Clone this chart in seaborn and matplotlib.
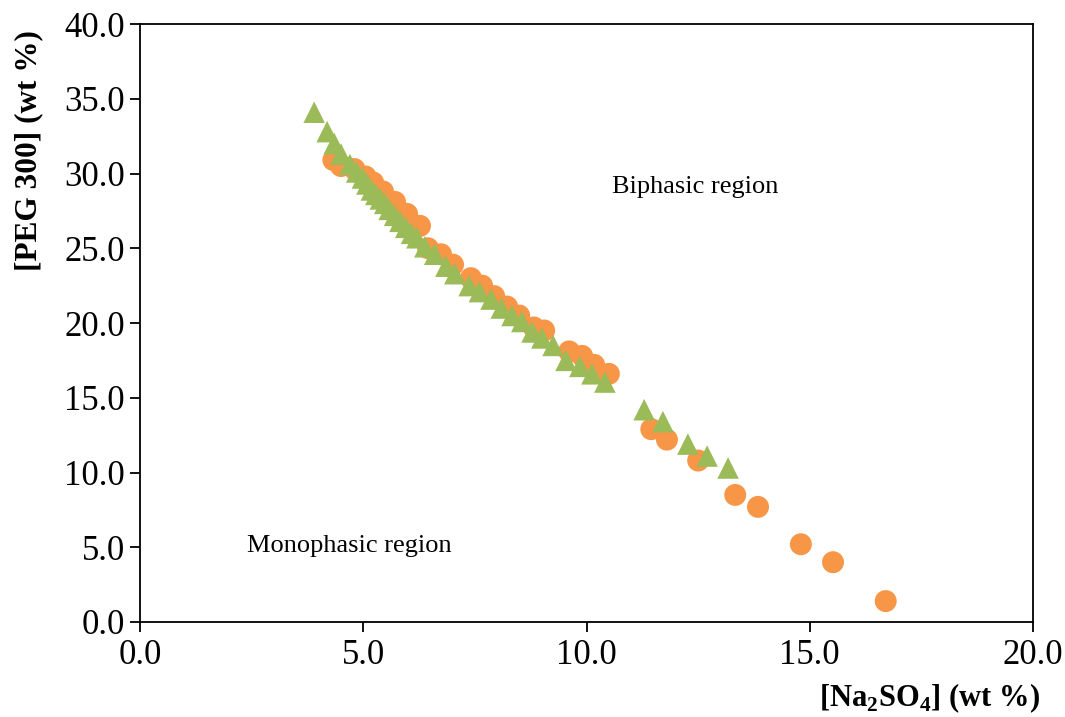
import numpy as np
import pandas as pd
import seaborn as sns
import matplotlib
matplotlib.use("Agg")
import matplotlib.pyplot as plt
from matplotlib.path import Path

# data
circ_x = [4.33, 4.50, 4.80, 5.05, 5.22, 5.44, 5.71, 5.98, 6.27, 6.45, 6.74, 7.01,
          7.41, 7.66, 7.93, 8.22, 8.49, 8.82, 9.05, 9.61, 9.90, 10.17, 10.50,
          11.45, 11.80, 12.50, 13.33, 13.84, 14.80, 15.52, 16.70]
circ_y = [30.9, 30.5, 30.3, 29.8, 29.4, 28.8, 28.1, 27.3, 26.5, 25.0, 24.6, 23.9,
          23.0, 22.5, 21.8, 21.1, 20.5, 19.7, 19.5, 18.1, 17.8, 17.2, 16.6,
          12.9, 12.2, 10.8, 8.5, 7.7, 5.2, 4.0, 1.4]

tri_x = [3.90, 4.19, 4.35, 4.50, 4.70, 4.85, 4.98, 5.08, 5.18, 5.28, 5.38, 5.48,
         5.58, 5.70, 5.82, 5.95, 6.08, 6.20, 6.38, 6.60, 6.85, 7.05, 7.37, 7.60,
         7.86, 8.09, 8.33, 8.55, 8.78, 9.00, 9.25, 9.54, 9.85, 10.12, 10.41,
         11.29, 11.71, 12.27, 12.70, 13.17]
tri_y = [34.1, 32.8, 32.0, 31.3, 30.6, 30.1, 29.7, 29.3, 28.9, 28.6, 28.3, 28.0,
         27.6, 27.2, 26.8, 26.4, 26.0, 25.7, 25.1, 24.6, 23.8, 23.3, 22.5, 22.1,
         21.6, 21.0, 20.5, 20.1, 19.4, 19.0, 18.5, 17.5, 17.1, 16.6, 16.05,
         14.2, 13.4, 11.9, 11.1, 10.3]

x_ticks = [0, 5, 10, 15, 20]
y_ticks = [0, 5, 10, 15, 20, 25, 30, 35, 40]

sns.set_theme(style="white")
plt.rcParams['font.family'] = ['Liberation Serif', 'DejaVu Serif']
plt.rcParams['mathtext.fontset'] = 'custom'
plt.rcParams['mathtext.rm'] = 'Liberation Serif'
plt.rcParams['mathtext.bf'] = 'Liberation Serif:bold'
plt.rcParams['text.color'] = 'black'
plt.rcParams['axes.labelcolor'] = 'black'

circles = pd.DataFrame({"x": circ_x, "y": circ_y})
triangles = pd.DataFrame({"x": tri_x, "y": tri_y})

# isosceles triangle, as wide as tall
tri_marker = Path([(0, 1), (-1, -1), (1, -1), (0, 1)], closed=True)

fig = plt.figure(figsize=(10.65, 7.17), dpi=100)
ax = fig.add_axes([0.1315, 0.1325, 0.8385, 0.834])

sns.scatterplot(data=circles, x="x", y="y", ax=ax, marker="o", s=250,
                color="#F79646", edgecolor="none", linewidth=0, zorder=3)
sns.scatterplot(data=triangles, x="x", y="y", ax=ax, marker=tri_marker, s=240,
                color="#9BBB59", edgecolor="none", linewidth=0, zorder=4)

ax.set_xlim(0, 20)
ax.set_ylim(0, 40)
ax.set_xticks(x_ticks)
ax.set_yticks(y_ticks)
ax.set_xticklabels([f"{v:.1f}" for v in x_ticks])
ax.set_yticklabels([f"{v:.1f}" for v in y_ticks])
ax.tick_params(axis="both", labelsize=25, length=7, width=1.3, direction="out",
               color="black", labelcolor="black", left=True, bottom=True)
ax.tick_params(axis="x", pad=5)
ax.tick_params(axis="y", pad=4)

for side in ["left", "bottom", "top", "right"]:
    ax.spines[side].set_visible(True)
    ax.spines[side].set_color("black")
    ax.spines[side].set_linewidth(1.3)
ax.grid(False)

ax.set_xlabel(r"[Na$_\mathbf{2}$SO$_\mathbf{4}$] (wt %)", fontsize=22,
              fontweight="bold", ha="right")
ax.xaxis.set_label_coords(1.008, -0.1)
ax.set_ylabel("[PEG 300] (wt %)", fontsize=22.5, fontweight="bold", ha="right")
ax.yaxis.set_label_coords(-0.108, 0.99)

ax.text(10.57, 29.1, "Biphasic region", fontsize=19, va="center", ha="left")
ax.text(2.4, 5.1, "Monophasic region", fontsize=19, va="center", ha="left")

fig.savefig("out.png", dpi=100)
